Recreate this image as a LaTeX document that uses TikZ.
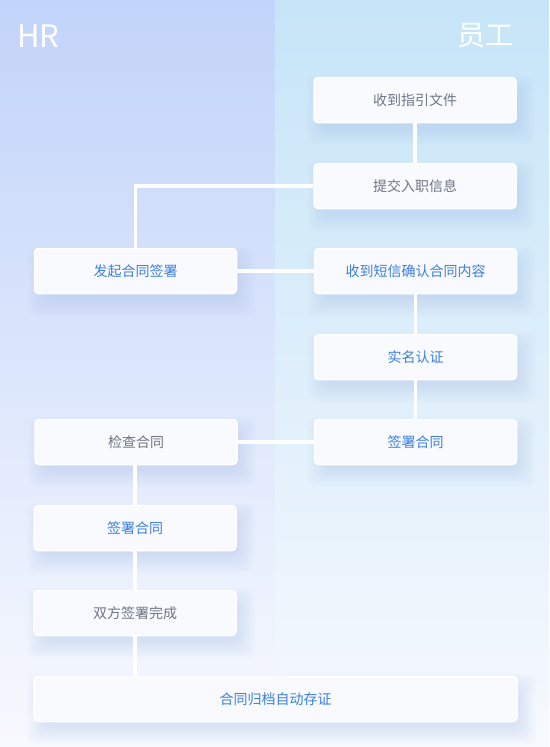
\documentclass[tikz,border=0pt]{standalone}
\usepackage{fontspec}
\setmainfont{Noto Sans CJK SC}
\usetikzlibrary{calc}
\pgfdeclarelayer{bglayer}
\pgfdeclarelayer{shadowlayer}
\pgfsetlayers{bglayer,shadowlayer,main}
\definecolor{lefttop}{HTML}{C2D4FA}
\definecolor{leftmid}{HTML}{E4ECFC}
\definecolor{righttop}{HTML}{C6E5F8}
\definecolor{rightmid}{HTML}{E3F0FB}
\definecolor{bottomc}{HTML}{F7F9FE}
\definecolor{boxfill}{HTML}{F8FAFE}
\definecolor{graytext}{HTML}{6E7583}
\definecolor{bluetext}{HTML}{3D7EE0}
\definecolor{shadowc}{HTML}{A9C2F2}
\tikzset{
  box/.style={draw=white, line width=1.5pt, fill=boxfill, rounded corners=4pt,
    minimum width=202pt, minimum height=45pt, inner sep=0pt, font=\fontsize{14pt}{16pt}\selectfont},
  graybox/.style={box, text=graytext},
  bluebox/.style={box, text=bluetext},
  hdr/.style={text=white, inner sep=0pt},
  conn/.style={draw=white, line width=3.5pt}
}
\newcommand\softshadow[1]{%
  \foreach \e in {-6,-4,...,12}{%
    \fill[shadowc, opacity=0.04, rounded corners=8pt]
      ($(#1.north west)+(6-\e,10-\e)$) rectangle ($(#1.south east)+(6+\e,10+\e)$);
  }%
}
\begin{document}
\begin{tikzpicture}[x=1pt,y=-1pt]
\begin{pgfonlayer}{bglayer}
  \shade[top color=lefttop, middle color=leftmid, bottom color=bottomc] (0,0) rectangle (275,747);
  \shade[top color=righttop, middle color=rightmid, bottom color=bottomc] (275,0) rectangle (549,747);
\end{pgfonlayer}
\useasboundingbox (0,0) rectangle (549,747);

\node[hdr, anchor=base west, font=\fontsize{31pt}{33pt}\selectfont] (hr) at (17,47) {HR};
\node[hdr, anchor=base east, font=\fontsize{28pt}{30pt}\selectfont] (yg) at (514,45) {员工};

\node[graybox] (n1) at (415,100) {收到指引文件};
\node[graybox] (n2) at (415,186) {提交入职信息};
\node[bluebox] (h1) at (135.5,271) {发起合同签署};
\node[bluebox] (n3) at (415.5,271) {收到短信确认合同内容};
\node[bluebox] (n4) at (415.5,357) {实名认证};
\node[graybox] (h2) at (136,442) {检查合同};
\node[bluebox] (n5) at (415.5,442) {签署合同};
\node[bluebox] (h3) at (135,528) {签署合同};
\node[graybox] (h4) at (135,613) {双方签署完成};
\node[bluebox, minimum width=483pt] (h5) at (275.5,699) {合同归档自动存证};

\begin{pgfonlayer}{shadowlayer}
  \softshadow{n1}\softshadow{n2}\softshadow{h1}\softshadow{n3}\softshadow{n4}
  \softshadow{h2}\softshadow{n5}\softshadow{h3}\softshadow{h4}\softshadow{h5}
\end{pgfonlayer}

\draw[conn] (n1.south) -- (n2.north);
\draw[conn] (n2.west) -| (h1.north);
\draw[conn] (h1.east) -- (n3.west);
\draw[conn] (n3.south) -- (n4.north);
\draw[conn] (n4.south) -- (n5.north);
\draw[conn] (n5.west) -- (h2.east);
\draw[conn] (h2.south -| h3.north) -- (h3.north);
\draw[conn] (h3.south) -- (h4.north);
\draw[conn] (h4.south) -- (h4.south |- h5.north);
\end{tikzpicture}
\end{document}
